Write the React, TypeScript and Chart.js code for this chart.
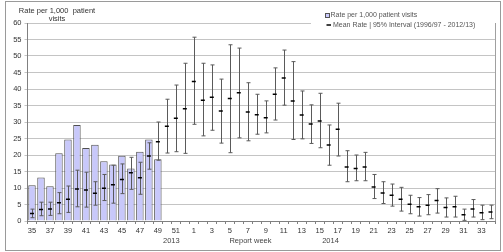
import React, { useEffect, useRef } from "react";
import { Chart, registerables } from "chart.js";

Chart.register(...registerables);

const weeks: string[] = [
  "35","36","37","38","39","40","41","42","43","44","45","46","47","48","49","50","51","52",
  "1","2","3","4","5","6","7","8","9","10","11","12","13","14","15","16","17",
  "18","19","20","21","22","23","24","25","26","27","28","29","30","31","32","33","34",
];

const rate: (number | null)[] = [
  10.8, 13.2, 10.5, 20.5, 24.7, 29.1, 22.1, 23.1, 18.1, 17.1, 19.8, 15.9, 21.0, 24.7, 18.7,
];

const meanRate: number[] = [
  2.3, 3.5, 3.6, 5.5, 6.6, 9.7, 9.4, 8.4, 9.9, 11.0, 12.6, 14.6, 13.1, 19.7, 24.0, 28.7, 31.1, 34.0,
  42.3, 36.6, 37.5, 33.3, 37.1, 38.9, 33.0, 32.2, 31.3, 38.4, 43.3, 36.4, 32.1, 29.4, 30.3, 23.0, 27.8,
  16.4, 15.9, 16.4, 10.3, 8.5, 7.8, 6.6, 5.1, 4.3, 4.8, 6.2, 4.1, 4.3, 1.9, 3.6, 2.5, 2.7,
];

const lowCI: number[] = [
  1.0, 1.6, 1.7, 2.2, 2.6, 4.3, 4.2, 4.8, 6.2, 5.4, 8.3, 9.6, 8.1, 15.7, 18.4, 20.6, 21.0, 20.5,
  29.3, 25.8, 27.5, 23.6, 20.7, 25.2, 24.3, 26.3, 26.7, 30.6, 35.1, 24.7, 24.9, 23.5, 22.2, 16.9, 19.7,
  11.9, 12.2, 12.2, 6.8, 5.3, 4.5, 3.0, 2.2, 1.5, 1.9, 2.4, 1.2, 1.2, 0.2, 1.2, 0.4, 0.7,
];

const highCI: number[] = [
  3.6, 5.7, 5.7, 8.6, 10.6, 15.4, 14.8, 11.9, 14.1, 16.9, 17.3, 19.3, 17.8, 23.7, 30.0, 36.9, 41.2, 47.8,
  55.7, 47.8, 47.3, 43.0, 53.4, 52.4, 41.9, 38.4, 36.4, 46.4, 51.8, 48.3, 39.4, 35.2, 38.7, 29.1, 35.7,
  21.3, 20.0, 20.8, 14.1, 11.9, 11.2, 10.2, 7.8, 7.1, 8.0, 9.8, 7.0, 7.5, 3.6, 6.5, 4.8, 4.8,
];

const yTitleLines: string[] = ["Rate per 1,000  patient", "visits"];
const legendLabels: string[] = ["Rate per 1,000 patient visits", "Mean Rate | 95% Interval (1996/97 - 2012/13)"];
// group labels: [text, category position (fractional index)]
const groupLabels: [string, number][] = [["2013", 15.5], ["Report week", 24.3], ["2014", 33.2]];

const FONT = "'Liberation Sans', Arial, sans-serif";

export default function App() {
  const ref = useRef<HTMLCanvasElement | null>(null);

  useEffect(() => {
    const canvas = ref.current;
    if (!canvas) return;

    const decor = {
      id: "decor",
      afterDatasetDraw(chart: any, args: any) {
        if (args.index !== 1) return;
        const ctx = chart.ctx;
        const xs = chart.scales.x;
        const ys = chart.scales.y;
        ctx.save();
        ctx.strokeStyle = "#5a5a5a";
        ctx.lineWidth = 1;
        for (let i = 0; i < weeks.length; i++) {
          const x = Math.round(xs.getPixelForValue(i)) + 0.5;
          const y1 = ys.getPixelForValue(lowCI[i]);
          const y2 = ys.getPixelForValue(highCI[i]);
          ctx.beginPath();
          ctx.moveTo(x, y1);
          ctx.lineTo(x, y2);
          ctx.moveTo(x - 2, y1);
          ctx.lineTo(x + 2, y1);
          ctx.moveTo(x - 2, y2);
          ctx.lineTo(x + 2, y2);
          ctx.stroke();
        }
        ctx.restore();
      },
      afterDraw(chart: any) {
        const ctx = chart.ctx;
        const xs = chart.scales.x;
        const area = chart.chartArea;
        ctx.save();
        // right plot border
        ctx.strokeStyle = "#a0a0a0";
        ctx.lineWidth = 1;
        ctx.beginPath();
        ctx.moveTo(Math.round(area.right) + 0.5, area.top);
        ctx.lineTo(Math.round(area.right) + 0.5, area.bottom);
        ctx.stroke();
        // outer frame
        ctx.strokeStyle = "#9a9a9a";
        ctx.strokeRect(5.5, 1.5, 495, 249);
        // legend box
        ctx.fillStyle = "#ffffff";
        ctx.fillRect(311, 8, Math.round(area.right) - 311, 18);
        ctx.fillStyle = "#ccccff";
        ctx.fillRect(325.5, 13.5, 4, 4);
        ctx.strokeStyle = "#555";
        ctx.strokeRect(325.5, 13.5, 4, 4);
        ctx.strokeStyle = "#000";
        ctx.lineWidth = 1.5;
        ctx.beginPath();
        ctx.moveTo(326.5, 25);
        ctx.lineTo(331, 25);
        ctx.stroke();
        ctx.font = `7px ${FONT}`;
        ctx.fillStyle = "#555";
        ctx.textAlign = "left";
        ctx.textBaseline = "middle";
        ctx.fillText(legendLabels[0], 330.5, 15.5);
        ctx.fillText(legendLabels[1], 333, 25);
        // y title
        ctx.font = `7.5px ${FONT}`;
        ctx.fillStyle = "#333";
        ctx.textAlign = "center";
        ctx.fillText(yTitleLines[0], 57, 10.5);
        ctx.fillText(yTitleLines[1], 57, 19);
        // group labels under x axis
        const p0 = xs.getPixelForValue(0);
        const step = xs.getPixelForValue(1) - p0;
        ctx.fillStyle = "#444";
        for (const [t, pos] of groupLabels) {
          ctx.fillText(t, p0 + pos * step, 241);
        }
        ctx.restore();
      },
    };

    const chart = new Chart(canvas, {
      type: "bar",
      data: {
        labels: weeks,
        datasets: [
          {
            type: "line",
            label: legendLabels[1],
            data: meanRate,
            showLine: false,
            pointStyle: "line",
            pointRadius: 2,
            pointBorderWidth: 1.5,
            borderColor: "#000",
            backgroundColor: "#000",
            order: 1,
          } as any,
          {
            type: "bar",
            label: legendLabels[0],
            data: rate,
            backgroundColor: "#c8c8fa",
            borderColor: "#505050",
            borderWidth: 1,
            barPercentage: 0.83,
            categoryPercentage: 1,
            order: 2,
          },
        ],
      },
      plugins: [decor],
      options: {
        responsive: false,
        animation: false,
        events: [],
        layout: { padding: { left: 0, right: 8, top: 23, bottom: 0 } },
        plugins: { legend: { display: false }, tooltip: { enabled: false } },
        scales: {
          x: {
            type: "category",
            offset: true,
            grid: {
              offset: true,
              drawOnChartArea: false,
              drawTicks: true,
              tickLength: 3,
              color: "#808080",
            },
            border: { display: true, color: "#808080" },
            ticks: {
              autoSkip: false,
              maxRotation: 0,
              minRotation: 0,
              padding: 2,
              color: "#333",
              font: { family: FONT, size: 7.5 },
              callback: (_v: any, i: number) => (i % 2 === 0 ? weeks[i] : ""),
            },
            afterFit: (s: any) => {
              s.height = 31;
            },
          },
          y: {
            min: 0,
            max: 60,
            ticks: {
              stepSize: 5,
              padding: 3,
              color: "#333",
              font: { family: FONT, size: 7.5 },
            },
            grid: { color: "#c4c4c4", tickLength: 3, drawTicks: true },
            border: { display: true, color: "#808080" },
            afterFit: (s: any) => {
              s.width = 27.5;
            },
          },
        },
      },
    });

    return () => chart.destroy();
  }, []);

  return (
    <div style={{ position: "fixed", left: 0, top: 0, width: 503, height: 252, background: "#fff" }}>
      <canvas ref={ref} width={503} height={252} style={{ width: 503, height: 252, display: "block" }} />
    </div>
  );
}
